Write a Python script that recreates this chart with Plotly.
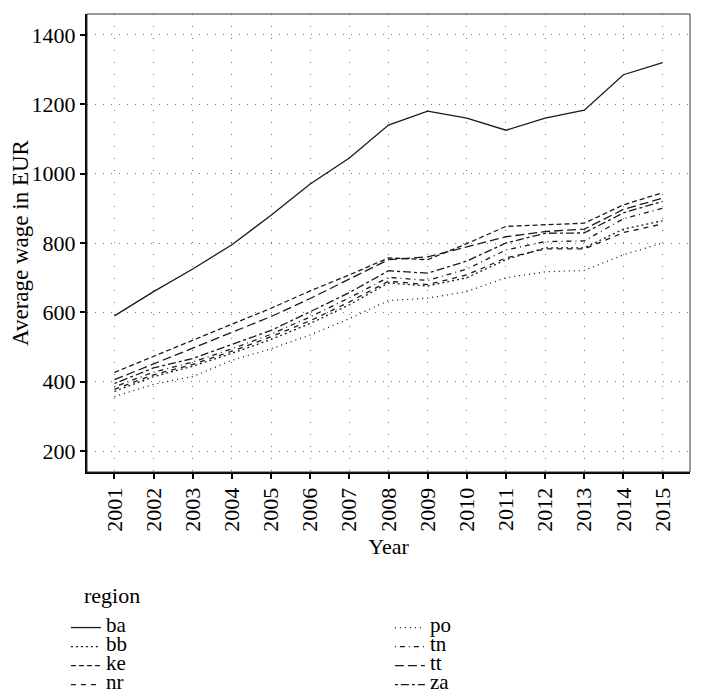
import plotly.graph_objects as go

years = list(range(2001, 2016))

ba = [590, 660, 725, 795, 880, 970, 1045, 1140, 1180, 1160, 1125, 1160, 1183, 1285, 1320]
bb = [372, 415, 445, 482, 522, 568, 622, 685, 676, 700, 752, 786, 786, 840, 864]
ke = [427, 474, 520, 566, 612, 662, 708, 757, 752, 798, 848, 853, 857, 910, 945]
nr = [378, 420, 450, 488, 530, 576, 630, 690, 680, 708, 757, 783, 783, 830, 855]
po = [357, 393, 415, 462, 495, 535, 582, 634, 641, 660, 700, 717, 721, 766, 800]
tn = [385, 428, 457, 495, 537, 587, 642, 701, 692, 725, 780, 804, 806, 870, 900]
tt = [406, 452, 496, 542, 588, 640, 695, 752, 760, 788, 818, 833, 840, 897, 929]
za = [395, 440, 467, 507, 548, 602, 657, 720, 713, 748, 800, 828, 829, 887, 920]

series = {"ba": ba, "bb": bb, "ke": ke, "nr": nr, "po": po, "tn": tn, "tt": tt, "za": za}
dashes = {
    "ba": "solid",
    "bb": "2px,3px",
    "ke": "5px,3px",
    "nr": "5px,5px",
    "po": "1px,4px",
    "tn": "1px,4px,5px,4px",
    "tt": "9px,4px",
    "za": "3px,3px,8px,3px",
}
# row-major order so the two-column legend reads: ba bb ke nr | po tn tt za
legend_order = ["ba", "po", "bb", "tn", "ke", "tt", "nr", "za"]

FONT = "Liberation Serif"
FS = 22
LFS = 21

fig = go.Figure()
for name in legend_order:
    fig.add_trace(go.Scatter(
        x=years, y=series[name], mode="lines",
        name=f'<span style="font-size:{LFS}px">{name}</span>',
        line=dict(color="#1a1a1a", width=1.3, dash=dashes[name]),
    ))

fig.update_layout(
    width=696, height=682,
    margin=dict(l=79, r=14, t=6, b=218, autoexpand=False),
    paper_bgcolor="white", plot_bgcolor="white",
    font=dict(family=FONT, size=FS, color="black"),
    showlegend=True,
    legend=dict(
        orientation="h", x=-0.035, xanchor="left", y=-0.308, yanchor="top",
        entrywidth=279, entrywidthmode="pixels",
        font=dict(size=11.7), traceorder="normal",
        bgcolor="rgba(0,0,0,0)",
    ),
    annotations=[dict(text="region", xref="paper", yref="paper", x=-0.008, y=-0.269,
                      xanchor="left", yanchor="middle", showarrow=False,
                      font=dict(size=FS))],
    xaxis=dict(
        title=dict(text="Year", standoff=8, font=dict(size=FS)),
        range=[2000.3, 2015.7], tickvals=years, ticktext=[str(y) for y in years],
        tickangle=-90, showline=True, linecolor="black", linewidth=2,
        ticks="outside", ticklen=5, tickwidth=1.5, tickcolor="black",
        showgrid=True, gridcolor="#777777", griddash="1px,11px", gridwidth=1,
        zeroline=False, tickfont=dict(size=FS),
    ),
    yaxis=dict(
        title=dict(text="Average wage in EUR", standoff=5, font=dict(size=23)),
        range=[140, 1460], tickvals=[200, 400, 600, 800, 1000, 1200, 1400],
        showline=True, linecolor="black", linewidth=2,
        ticks="outside", ticklen=5, tickwidth=1.5, tickcolor="black",
        showgrid=True, gridcolor="#777777", griddash="1px,7px", gridwidth=1,
        zeroline=False, tickfont=dict(size=FS),
    ),
    shapes=[dict(type="rect", xref="x domain", yref="y domain", x0=0, x1=1, y0=0, y1=1,
                 line=dict(color="#333333", width=1), layer="above")],
)

fig.write_html("out.html")
